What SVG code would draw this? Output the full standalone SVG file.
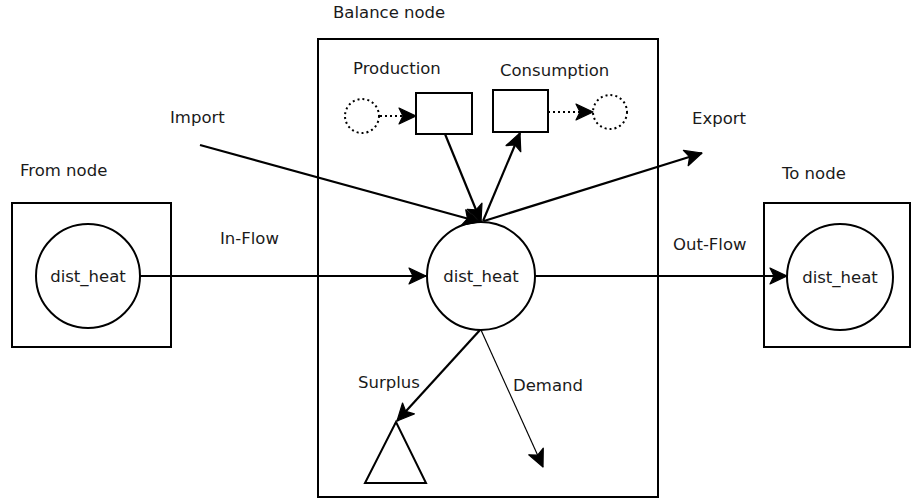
<svg xmlns="http://www.w3.org/2000/svg" width="913" height="501" viewBox="0 0 913 501">
  <style>
    .box { fill: #fff; stroke: #000; stroke-width: 2; }
    .node { fill: #fff; stroke: #000; stroke-width: 2; }
    .dot { fill: none; stroke: #000; stroke-width: 2; stroke-dasharray: 2 3; }
    .flow { fill: none; stroke: #000; stroke-width: 2.2; }
    .thin { fill: none; stroke: #000; stroke-width: 1.2; }
    .dflow { fill: none; stroke: #000; stroke-width: 2.2; stroke-dasharray: 2 3; }
    text { font-family: "DejaVu Sans", "Liberation Sans", sans-serif; font-size: 16.5px; fill: #1a1a1a; }
    .mid { text-anchor: middle; }
  </style>
  <defs>
    <marker id="arrow" markerUnits="userSpaceOnUse" markerWidth="20" markerHeight="20" refX="17" refY="10" orient="auto" overflow="visible">
      <path d="M0,2 L17,10 L0,18 L4,10 z" fill="#000" stroke="#000" stroke-width="1.2" stroke-linejoin="round"/>
    </marker>
  </defs>

  <!-- balance node frame -->
  <g id="balance-node">
    <rect class="box" x="318" y="39" width="340" height="458"/>
    <text x="333" y="18">Balance node</text>
  </g>

  <!-- from node -->
  <g id="from-node">
    <text x="20" y="176">From node</text>
    <rect class="box" x="12" y="203" width="159" height="144"/>
    <circle class="node" cx="88" cy="276" r="52"/>
    <text class="mid" x="88" y="282">dist_heat</text>
  </g>

  <!-- to node -->
  <g id="to-node">
    <text x="782" y="179">To node</text>
    <rect class="box" x="764" y="203" width="146" height="144"/>
    <circle class="node" cx="840" cy="277" r="53"/>
    <text class="mid" x="840" y="283">dist_heat</text>
  </g>

  <!-- central commodity node -->
  <g id="main-node">
    <circle class="node" cx="481" cy="276" r="54"/>
    <text class="mid" x="481" y="282">dist_heat</text>
  </g>

  <!-- production unit -->
  <g id="production">
    <text x="353" y="74">Production</text>
    <circle class="dot" cx="362" cy="116" r="17"/>
    <rect class="box" x="416" y="93" width="56" height="41"/>
  </g>

  <!-- consumption unit -->
  <g id="consumption">
    <text x="500" y="76">Consumption</text>
    <rect class="box" x="493" y="90" width="55" height="42"/>
    <circle class="dot" cx="610" cy="112" r="17"/>
  </g>

  <!-- surplus sink -->
  <g id="surplus">
    <text x="358" y="388">Surplus</text>
    <polygon class="box" points="396,422 365,483 426,483"/>
  </g>

  <!-- connectors -->
  <g id="connectors">
    <line class="flow" x1="140" y1="276" x2="426" y2="276" marker-end="url(#arrow)"/>
    <line class="flow" x1="535" y1="276" x2="787" y2="276" marker-end="url(#arrow)"/>
    <line class="dflow" x1="380" y1="116" x2="416" y2="116" marker-end="url(#arrow)"/>
    <line class="dflow" x1="548" y1="112" x2="593" y2="112" marker-end="url(#arrow)"/>
    <line class="flow" x1="445" y1="134" x2="481" y2="222" marker-end="url(#arrow)"/>
    <line class="flow" x1="483" y1="221" x2="520" y2="133" marker-end="url(#arrow)"/>
    <line class="flow" x1="200" y1="145" x2="480" y2="222" marker-end="url(#arrow)"/>
    <line class="flow" x1="484" y1="221" x2="702" y2="153" marker-end="url(#arrow)"/>
    <line class="flow" x1="480" y1="330" x2="397" y2="421" marker-end="url(#arrow)"/>
    <line class="thin" x1="481" y1="330" x2="543" y2="467" marker-end="url(#arrow)"/>
    <text x="170" y="123">Import</text>
    <text x="692" y="124">Export</text>
    <text x="220" y="244">In-Flow</text>
    <text x="673" y="250">Out-Flow</text>
    <text x="513" y="391">Demand</text>
  </g>
</svg>
